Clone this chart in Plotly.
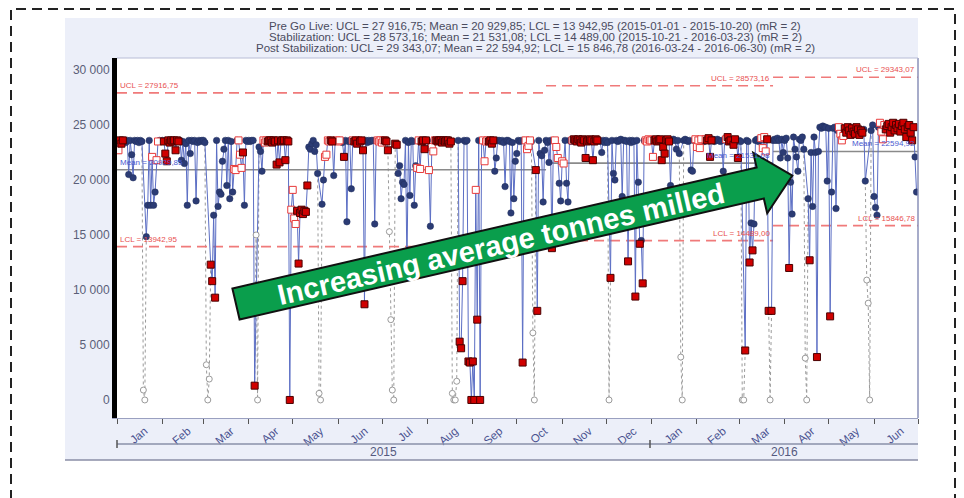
import math
import pandas as pd
import plotly.graph_objects as go

# ---------------- data (daily tonnes milled) ----------------
# status codes: n = in control, r = flagged (filled red), h = flagged (open red), x = excluded
jan15 = [23500,22700,23600,23300,23600,23600,23400,23600,20500,23600,22300,20200,23600,23500,23600,23400,
         23600,23500,900,0,14850,17700,23600,17700,22100,17700,18900,21800,23500,23600,23500]
jan15_s = "hhrrrnnnnnnnnnnnnnxxnnnnhnnhhnn"
feb15 = [23600,23500,22400,21700,23600,23400,23600,23500,23600,22700,23600,23500,23600,21800,23500,21500,
         23300,17700,23600,22400,23600,23500,23600,18100,23400,23600,23500,23600]
feb15_s = "nrrrrrrrrrrrnnnnnnnnnnnnnnnn"
mar15 = [23600,23400,3200,0,1900,12300,10800,16800,9300,23600,17600,18900,18700,21700,22800,23600,19500,
         23600,18300,23500,18900,21000,20900,23600,23600,22300,21100,22500,17700,23600,23500]
mar15_s = "nnxxxrrnrnnnnnnnnnnnnhhnhhhrnnn"
apr15 = [23600,23500,23600,23600,1300,15000,0,23000,22600,20800,23600,23400,23600,23500,23600,23600,23400,
         23600,23500,21400,23600,21600,23500,23600,23600,21800,23600,23500,0,17300]
apr15_s = "nnnnrxxnnnhhhrrrrrrrrrrrrrrrrh"
may15 = [19100,16500,16000,17200,12400,17000,17300,16900,17200,17100,19500,23000,22800,23300,23600,22600,
         23200,20600,600,0,17800,20000,22100,22300,23600,23500,23600,23500,20400,23600,23600]
may15_s = "hhhrrrrrrrrnnnnnnnxxnnhhhhrrnnh"
jun15 = [23500,23600,23600,23400,22100,23600,16200,23500,23600,19200,23600,23500,23600,23300,23600,23500,
         23600,22700,8700,23600,23400,23600,23500,23600,23600,16000,23600,23600,23500,23600]
jun15_s = "hhnnrnnnnnhrrrhrrrrnnnnnnnnhhh"
jul15 = [23400,23600,23600,23500,22700,15300,7300,900,0,23300,23200,20600,21300,18300,19800,19600,23600,
         12000,23400,18600,23600,23500,17700,21300,21100,23600,21000,23500,23600,22800,23600]
jul15_s = "hhrrrxxxxrrnnnnnnnnnnnnnhhhrrrr"
aug15 = [23600,20900,15800,23000,22600,23600,23600,23500,23600,23600,23400,23600,23500,23600,23600,23300,
         23500,600,0,0,1700,23600,5300,4700,10800,23600,23500,23600,3500,3400,0]
aug15_s = "nhnhhhrrrrrrrrrrrxxxxnrrrnnnrrr"
sep15 = [3500,0,19100,7300,23600,0,23600,23600,21700,23500,23600,23500,23600,23300,23600,20800,22000,
         23600,23600,23500,23600,23400,19400,23600,23600,23500,17000,23400,18300,21700]
sep15_s = "rrhrnrnhhhhrrrrnnnnnnnnnnnnnnn"
oct15 = [22400,23600,23500,23600,3400,23600,23600,22800,23100,23600,23500,6100,0,20900,8100,23600,22400,
         22200,18000,22700,23600,23400,21600,23600,13800,23600,23600,23000,22000,19700,18100]
oct15_s = "nnnnrnhhhhnxxrrnnnnnnnnnrnhhhnn"
nov15 = [21700,21500,23600,19700,18000,23600,23500,23600,23700,23600,23500,23700,23600,23400,23700,23600,
         22000,23500,23600,23700,23600,21800,23500,23700,23600,23600,23500,22500,23600,23400]
nov15_s = "hhnnnnnhrrrrrrrrrrrrrrrrrnnnnn"
dec15 = [23600,23400,0,11100,23600,20600,20000,23600,23500,23600,23700,18500,23600,23600,23500,12600,23600,
         23400,23600,23500,9400,23600,19800,14200,14500,10600,23600,23600,23500,23700,23600]
dec15_s = "nnxrnnnnnnnnnnnrnnnnrnnrnrnhhhh"
jan16 = [23600,22100,23600,23700,23500,23600,23700,21800,23000,22400,23600,23700,23500,19500,23600,23700,
         23600,22800,23600,22400,3900,0,23600,23700,23600,23500,23600,20900,20800,23600,23700]
jan16_s = "hhrrrrrrrrrrrnnnnnnnxxnnnnnnnnh"
feb16 = [23000,23600,22900,23700,23600,23500,23700,23600,23800,22100,23600,23700,23500,23600,23700,23600,
         23500,23600,20800,23700,23700,23900,23500,23600,23600,23200,23700,23500,22000]
feb16_s = "hhhhnnhrrrrnnnnnnnnnhrrrnrrnr"
mar16 = [23600,23500,0,0,4500,23600,23500,12500,16100,13600,16000,23600,23700,23500,23600,23800,22900,
         23900,22600,23700,8100,0,8100,23600,23700,23600,23800,23600,22000,23700,22500]
mar16_s = "nnxxrnnrnrnnnnnhhhhrrxrnnnnnnnn"
apr16 = [23600,23800,22000,12000,19800,16900,23900,22800,22100,20800,23700,23600,23900,22800,3800,0,18300,
         12700,22500,17600,23900,22500,3900,22600,24800,24700,24900,24800,24800,19900]
apr16_s = "nnnrnnnnnnnnnnxxnrnnnnrnnnnnnn"
may16 = [24700,7600,18900,24700,24800,17400,24500,24800,24200,23600,24000,24700,24300,24800,24500,24100,
         24700,24400,24200,24800,24600,24100,24500,24300,24600,19900,10900,8800,0,24500,25000]
may16_s = "nrnnnnnhhhhrrrrrrrrrrrrrnnxxxnn"
jun16 = [18500,17500,16800,24800,25200,24400,23700,25000,24600,24900,25100,24300,24800,25200,24500,25000,
         24700,25100,24400,24900,25200,24600,23900,24800,25000,24300,23600,24800,22100,18900]
jun16_s = "nnnnhhhhrrrrrrrrrrrrrrrrrrrrnn"

# phases / control limits
phase_names = ["Pre Go Live", "Stabilization", "Post Stabilization"]
phase_start = ["2015-01-01", "2015-10-21", "2016-03-24"]
phase_end = ["2015-10-20", "2016-03-23", "2016-06-30"]
ucl = [27916.75, 28573.16, 29343.07]
mean = [20929.85, 21531.08, 22594.92]
lcl = [13942.95, 14489.00, 15846.78]
mr = [2, 2, 2]

y_ticks = [0, 5000, 10000, 15000, 20000, 25000, 30000]
years = ["2015", "2016"]
arrow_text = "Increasing average tonnes milled"

# ---------------- assemble ----------------
months = [(jan15, jan15_s), (feb15, feb15_s), (mar15, mar15_s), (apr15, apr15_s), (may15, may15_s),
          (jun15, jun15_s), (jul15, jul15_s), (aug15, aug15_s), (sep15, sep15_s), (oct15, oct15_s),
          (nov15, nov15_s), (dec15, dec15_s), (jan16, jan16_s), (feb16, feb16_s), (mar16, mar16_s),
          (apr16, apr16_s), (may16, may16_s), (jun16, jun16_s)]
values, status = [], ""
for v, s in months:
    assert len(v) == len(s), (len(v), len(s))
    values += v
    status += s
dates = list(pd.date_range("2015-01-01", periods=len(values), freq="D"))
n = len(values)

FONT = "Liberation Sans, Arial, sans-serif"
fig = go.Figure()

# excluded points: dotted connectors
ex_x, ex_y = [], []
i = 0
while i < n:
    if status[i] == "x":
        j = i
        while j < n and status[j] == "x":
            j += 1
        for k in range(max(i - 1, 0), min(j + 1, n)):
            ex_x.append(dates[k]); ex_y.append(values[k])
        ex_x.append(None); ex_y.append(None)
        i = j
    else:
        i += 1
fig.add_trace(go.Scatter(x=ex_x, y=ex_y, mode="lines",
                         line=dict(color="#9a9a9a", width=1, dash="dot"), hoverinfo="skip"))

# control limit lines
for p in range(len(phase_names)):
    xs = [pd.Timestamp(phase_start[p]), pd.Timestamp(phase_end[p]) + pd.Timedelta(days=1)]
    for val, col, dash, w in [(ucl[p], "#f07a7a", "10px,6px", 1.6), (lcl[p], "#f07a7a", "10px,6px", 1.6),
                              (mean[p], "#8a8a8a", "solid", 1.6)]:
        fig.add_trace(go.Scatter(x=xs, y=[val, val], mode="lines",
                                 line=dict(color=col, width=w, dash=dash), hoverinfo="skip"))

# main series line
inc = [k for k in range(n) if status[k] != "x"]
fig.add_trace(go.Scatter(x=[dates[k] for k in inc], y=[values[k] for k in inc], mode="lines",
                         line=dict(color="#5b6ec4", width=1)))

def pts(code):
    idx = [k for k in range(n) if status[k] == code]
    return [dates[k] for k in idx], [values[k] for k in idx]

x_, y_ = pts("x")
fig.add_trace(go.Scatter(x=x_, y=y_, mode="markers",
                         marker=dict(symbol="circle", size=6, color="white", line=dict(color="#9a9a9a", width=1))))
x_, y_ = pts("n")
fig.add_trace(go.Scatter(x=x_, y=y_, mode="markers",
                         marker=dict(symbol="circle", size=6.5, color="#2b3b74", line=dict(color="#22305f", width=0.5))))
x_, y_ = pts("h")
fig.add_trace(go.Scatter(x=x_, y=y_, mode="markers",
                         marker=dict(symbol="square", size=7, color="white", line=dict(color="#e83a3a", width=1))))
x_, y_ = pts("r")
fig.add_trace(go.Scatter(x=x_, y=y_, mode="markers",
                         marker=dict(symbol="square", size=7, color="#d00000", line=dict(color="#4a0000", width=1))))

# ---------------- layout helpers (screen pixel -> paper) ----------------
OFF = 8  # page body margin
L, R, T, B = 117, 918, 58, 418   # plot area on screen
def px(x): return (x - L) / (R - L)
def py(y): return (B - y) / (B - T)

shapes = []
shapes.append(dict(type="rect", xref="paper", yref="paper", x0=px(65), x1=px(918), y0=py(460), y1=py(18),
                   fillcolor="#eceff9", line=dict(width=0), layer="below"))
shapes.append(dict(type="rect", xref="paper", yref="paper", x0=0, x1=1, y0=0, y1=1,
                   fillcolor="white", line=dict(width=0), layer="below"))
shapes.append(dict(type="line", xref="paper", yref="paper", x0=1, x1=1, y0=0, y1=1,
                   line=dict(color="#8a90b8", width=1.5)))
shapes.append(dict(type="line", xref="paper", yref="paper", x0=0, x1=1, y0=1, y1=1,
                   line=dict(color="#b8bcd6", width=1)))
shapes.append(dict(type="line", xref="paper", yref="paper", x0=px(117), x1=px(918), y0=py(444), y1=py(444),
                   line=dict(color="#8a90a8", width=1.5)))
for tx in [117, 650]:
    shapes.append(dict(type="line", xref="paper", yref="paper", x0=px(tx), x1=px(tx), y0=py(440), y1=py(448),
                       line=dict(color="#555", width=1.5)))
shapes.append(dict(type="line", xref="paper", yref="paper", x0=px(65), x1=px(918), y0=py(460), y1=py(460),
                   line=dict(color="#8a8ea6", width=1.5)))
shapes.append(dict(type="rect", xref="paper", yref="paper", x0=px(11), x1=px(955), y0=py(520), y1=py(9),
                   line=dict(color="#222", width=2, dash="10px,6px"), fillcolor="rgba(0,0,0,0)"))

# green arrow
th = math.radians(13)
ux, uy = math.cos(th), -math.sin(th)
nx, ny = math.sin(th), math.cos(th)
Sx, Sy = 236, 304
body, hb, hh, hl = 538, 16, 31, 33
def P(a, b):
    return (Sx + a * ux + b * nx, Sy + a * uy + b * ny)
poly = [P(0, -hb), P(0, hb), P(body, hb), P(body, hh), P(body + hl, 0), P(body, -hh), P(body, -hb)]
path = "M " + " L ".join(f"{px(a):.5f},{py(b):.5f}" for a, b in poly) + " Z"
shapes.append(dict(type="path", xref="paper", yref="paper", path=path, fillcolor="#0a9e4c",
                   line=dict(color="#111", width=2), layer="above"))

annotations = []
cx, cy = P(272, 1)
annotations.append(dict(x=px(cx), y=py(cy), xref="paper", yref="paper", text=f"<b>{arrow_text}</b>",
                        showarrow=False, textangle=-13, font=dict(family=FONT, size=29, color="white"),
                        xanchor="center", yanchor="middle"))

def fmt_sp(v):
    return f"{v:,.2f}".replace(",", " ").replace(".", ",")
def fmt_plain(v):
    return f"{v:.2f}".replace(".", ",")

for p in range(len(phase_names)):
    t = (f"{phase_names[p]}: UCL = {fmt_sp(ucl[p])}; Mean = {fmt_sp(mean[p])}; LCL = {fmt_sp(lcl[p])} "
         f"({phase_start[p]} - {phase_end[p]}) (mR = {mr[p]})")
    annotations.append(dict(x=px(535), y=py(26 + 11 * p), xref="paper", yref="paper", text=t, showarrow=False,
                            font=dict(family=FONT, size=11.5, color="#4a4b5e"), xanchor="center", yanchor="middle"))
    if p == 0:
        ax, anc = pd.Timestamp(phase_start[p]) + pd.Timedelta(hours=12), "left"
    else:
        ax, anc = pd.Timestamp(phase_end[p]) + pd.Timedelta(hours=12), "right"
    for lab, val, col in [("UCL", ucl[p], "#e85050"), ("Mean", mean[p], "#4a5ad0"), ("LCL", lcl[p], "#e85050")]:
        annotations.append(dict(x=ax, y=val, xref="x", yref="y", text=f"{lab} = {fmt_plain(val)}",
                                showarrow=False, xanchor=anc, yanchor="bottom", yshift=1,
                                font=dict(family=FONT, size=8, color=col)))

year_centers = [pd.Timestamp("2015-07-02"), pd.Timestamp("2016-04-01")]
for yr, xc in zip(years, year_centers):
    annotations.append(dict(x=xc, y=py(452), xref="x", yref="paper", text=yr, showarrow=False,
                            font=dict(family=FONT, size=12, color="#555a80"), xanchor="center", yanchor="middle"))

fig.update_layout(
    width=964, height=498, autosize=False,
    margin=dict(l=L - OFF, r=964 - (R - OFF), t=T - OFF, b=498 - (B - OFF), pad=0),
    paper_bgcolor="white", plot_bgcolor="white",
    showlegend=False, separators=", ",
    font=dict(family=FONT),
    shapes=shapes, annotations=annotations,
    xaxis=dict(type="date", range=["2015-01-01", "2016-07-01"], dtick="M1", tick0="2015-01-01",
               ticklabelmode="period", tickformat="%b", tickangle=-40, ticks="outside", ticklen=5,
               tickcolor="#555", showgrid=False, zeroline=False, showline=True, linecolor="#9aa0c0",
               linewidth=1, tickfont=dict(family=FONT, size=11.5, color="#4a5290"),
               ticklabelstandoff=-4, ticklabelshift=5),
    yaxis=dict(range=[-1640, 31090], tickvals=y_ticks, tickformat=",.0f", showgrid=False, zeroline=False,
               showline=True, linecolor="black", linewidth=5, ticks="",
               tickfont=dict(family=FONT, size=12, color="#5a5e78")),
)

fig.write_html("out.html")
